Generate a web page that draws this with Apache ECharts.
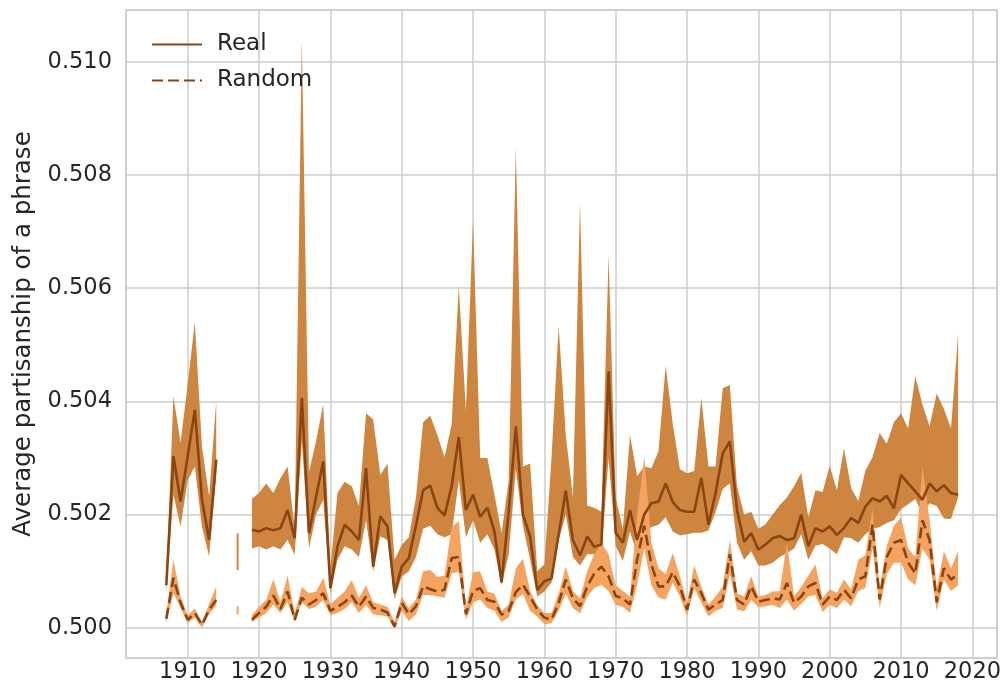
<!DOCTYPE html>
<html>
<head>
<meta charset="utf-8">
<title>Average partisanship of a phrase</title>
<script src="https://cdn.jsdelivr.net/npm/echarts@6.0.0/dist/echarts.min.js"></script>
<style>
  html, body { margin: 0; padding: 0; background: #fff; }
  #chart { width: 1004px; height: 690px; }
</style>
</head>
<body>
<div id="chart"></div>
<script>
// one entry per year, null where the year has no data
const years = [
  1907, 1908, 1909, 1910, 1911, 1912, 1913, 1914, 1915, 1916,
  1917, 1918, 1919, 1920, 1921, 1922, 1923, 1924, 1925, 1926,
  1927, 1928, 1929, 1930, 1931, 1932, 1933, 1934, 1935, 1936,
  1937, 1938, 1939, 1940, 1941, 1942, 1943, 1944, 1945, 1946,
  1947, 1948, 1949, 1950, 1951, 1952, 1953, 1954, 1955, 1956,
  1957, 1958, 1959, 1960, 1961, 1962, 1963, 1964, 1965, 1966,
  1967, 1968, 1969, 1970, 1971, 1972, 1973, 1974, 1975, 1976,
  1977, 1978, 1979, 1980, 1981, 1982, 1983, 1984, 1985, 1986,
  1987, 1988, 1989, 1990, 1991, 1992, 1993, 1994, 1995, 1996,
  1997, 1998, 1999, 2000, 2001, 2002, 2003, 2004, 2005, 2006,
  2007, 2008, 2009, 2010, 2011, 2012, 2013, 2014, 2015, 2016,
  2017, 2018
];

const realMean = [
  0.50075, 0.50303, 0.50223, 0.50303, 0.50385, 0.50226, 0.50155, 0.50297, null, null,
  0.50135, null, 0.50173, 0.50170, 0.50176, 0.50172, 0.50176, 0.50208, 0.50158, 0.50406,
  0.50167, 0.50232, 0.50294, 0.50070, 0.50144, 0.50182, 0.50170, 0.50155, 0.50282, 0.50108,
  0.50197, 0.50179, 0.50061, 0.50108, 0.50123, 0.50181, 0.50243, 0.50251, 0.50212, 0.50198,
  0.50250, 0.50337, 0.50208, 0.50235, 0.50196, 0.50212, 0.50170, 0.50080, 0.50205, 0.50356,
  0.50200, 0.50161, 0.50067, 0.50082, 0.50087, 0.50165, 0.50242, 0.50155, 0.50128, 0.50161,
  0.50143, 0.50147, 0.50453, 0.50168, 0.50150, 0.50208, 0.50155, 0.50200, 0.50220, 0.50223,
  0.50255, 0.50222, 0.50208, 0.50205, 0.50205, 0.50265, 0.50182, 0.50238, 0.50308, 0.50329,
  0.50208, 0.50152, 0.50167, 0.50138, 0.50147, 0.50158, 0.50162, 0.50155, 0.50158, 0.50200,
  0.50144, 0.50176, 0.50170, 0.50179, 0.50164, 0.50176, 0.50194, 0.50185, 0.50214, 0.50229,
  0.50223, 0.50233, 0.50211, 0.50270, 0.50255, 0.50241, 0.50226, 0.50255, 0.50241, 0.50252,
  0.50238, 0.50235
];
const realLo = [
  0.50062, 0.50235, 0.50179, 0.50261, 0.50285, 0.50179, 0.50126, 0.50270, null, null,
  0.50102, null, 0.50140, 0.50144, 0.50138, 0.50144, 0.50138, 0.50155, 0.50129, 0.50330,
  0.50140, 0.50200, 0.50226, 0.50060, 0.50120, 0.50144, 0.50138, 0.50125, 0.50190, 0.50100,
  0.50161, 0.50155, 0.50050, 0.50090, 0.50100, 0.50125, 0.50175, 0.50180, 0.50165, 0.50160,
  0.50165, 0.50260, 0.50160, 0.50190, 0.50150, 0.50165, 0.50138, 0.50075, 0.50130, 0.50280,
  0.50180, 0.50120, 0.50055, 0.50064, 0.50080, 0.50155, 0.50200, 0.50125, 0.50110, 0.50130,
  0.50130, 0.50134, 0.50300, 0.50145, 0.50118, 0.50170, 0.50130, 0.50165, 0.50178, 0.50182,
  0.50195, 0.50170, 0.50163, 0.50165, 0.50168, 0.50168, 0.50172, 0.50205, 0.50245, 0.50255,
  0.50150, 0.50120, 0.50135, 0.50110, 0.50110, 0.50115, 0.50125, 0.50132, 0.50140, 0.50165,
  0.50120, 0.50145, 0.50148, 0.50140, 0.50130, 0.50160, 0.50158, 0.50150, 0.50165, 0.50175,
  0.50178, 0.50185, 0.50190, 0.50210, 0.50218, 0.50228, 0.50200, 0.50220, 0.50215, 0.50193,
  0.50192, 0.50230
];
const realHi = [
  0.50085, 0.50409, 0.50327, 0.50430, 0.50540, 0.50320, 0.50232, 0.50400, null, null,
  0.50167, null, 0.50228, 0.50238, 0.50255, 0.50238, 0.50264, 0.50285, 0.50175, 0.51040,
  0.50275, 0.50330, 0.50395, 0.50106, 0.50238, 0.50258, 0.50250, 0.50215, 0.50379, 0.50368,
  0.50270, 0.50290, 0.50120, 0.50146, 0.50160, 0.50230, 0.50363, 0.50375, 0.50340, 0.50301,
  0.50359, 0.50604, 0.50383, 0.50720, 0.50300, 0.50300, 0.50235, 0.50167, 0.50260, 0.50849,
  0.50285, 0.50290, 0.50100, 0.50112, 0.50300, 0.50533, 0.50340, 0.50230, 0.50752, 0.50216,
  0.50212, 0.50205, 0.50658, 0.50230, 0.50175, 0.50340, 0.50268, 0.50285, 0.50282, 0.50312,
  0.50463, 0.50360, 0.50280, 0.50273, 0.50277, 0.50406, 0.50285, 0.50285, 0.50423, 0.50429,
  0.50250, 0.50200, 0.50205, 0.50175, 0.50183, 0.50200, 0.50217, 0.50230, 0.50250, 0.50274,
  0.50195, 0.50243, 0.50240, 0.50286, 0.50243, 0.50317, 0.50247, 0.50224, 0.50278, 0.50301,
  0.50344, 0.50325, 0.50363, 0.50379, 0.50352, 0.50445, 0.50394, 0.50356, 0.50414, 0.50387,
  0.50352, 0.50519
];

const randMean = [
  0.50016, 0.50088, 0.50044, 0.50014, 0.50026, 0.50005, 0.50032, 0.50049, null, null,
  0.50030, null, 0.50014, 0.50026, 0.50037, 0.50057, 0.50033, 0.50064, 0.50014, 0.50053,
  0.50041, 0.50049, 0.50061, 0.50030, 0.50037, 0.50045, 0.50057, 0.50037, 0.50055, 0.50035,
  0.50032, 0.50027, 0.50002, 0.50044, 0.50024, 0.50038, 0.50073, 0.50068, 0.50064, 0.50067,
  0.50123, 0.50125, 0.50024, 0.50065, 0.50070, 0.50049, 0.50046, 0.50023, 0.50030, 0.50063,
  0.50076, 0.50055, 0.50032, 0.50018, 0.50014, 0.50044, 0.50085, 0.50052, 0.50038, 0.50073,
  0.50096, 0.50108, 0.50091, 0.50056, 0.50052, 0.50041, 0.50120, 0.50180, 0.50112, 0.50073,
  0.50073, 0.50098, 0.50073, 0.50032, 0.50085, 0.50061, 0.50032, 0.50041, 0.50049, 0.50130,
  0.50049, 0.50041, 0.50073, 0.50046, 0.50049, 0.50052, 0.50050, 0.50079, 0.50044, 0.50055,
  0.50073, 0.50079, 0.50041, 0.50055, 0.50049, 0.50067, 0.50052, 0.50085, 0.50091, 0.50182,
  0.50050, 0.50125, 0.50150, 0.50155, 0.50115, 0.50096, 0.50190, 0.50155, 0.50045, 0.50105,
  0.50085, 0.50095
];
const randLo = [
  0.50008, 0.50061, 0.50035, 0.50008, 0.50018, 0.50000, 0.50024, 0.50040, null, null,
  0.50023, null, 0.50010, 0.50018, 0.50026, 0.50041, 0.50026, 0.50045, 0.50010, 0.50045,
  0.50033, 0.50037, 0.50049, 0.50022, 0.50026, 0.50033, 0.50045, 0.50026, 0.50040, 0.50024,
  0.50022, 0.50020, 0.49998, 0.50030, 0.50012, 0.50024, 0.50058, 0.50058, 0.50055, 0.50053,
  0.50096, 0.50099, 0.50014, 0.50045, 0.50050, 0.50035, 0.50030, 0.50010, 0.50018, 0.50050,
  0.50060, 0.50030, 0.50020, 0.50006, 0.50008, 0.50030, 0.50060, 0.50035, 0.50025, 0.50055,
  0.50070, 0.50076, 0.50065, 0.50040, 0.50037, 0.50026, 0.50076, 0.50140, 0.50075, 0.50053,
  0.50050, 0.50080, 0.50055, 0.50020, 0.50070, 0.50044, 0.50020, 0.50030, 0.50035, 0.50096,
  0.50032, 0.50029, 0.50049, 0.50036, 0.50038, 0.50040, 0.50035, 0.50050, 0.50030, 0.50042,
  0.50055, 0.50058, 0.50028, 0.50040, 0.50035, 0.50050, 0.50038, 0.50065, 0.50070, 0.50140,
  0.50035, 0.50095, 0.50115, 0.50115, 0.50085, 0.50075, 0.50140, 0.50120, 0.50030, 0.50085,
  0.50065, 0.50075
];
const randHi = [
  0.50025, 0.50120, 0.50055, 0.50022, 0.50034, 0.50010, 0.50042, 0.50073, null, null,
  0.50038, null, 0.50022, 0.50037, 0.50049, 0.50085, 0.50045, 0.50092, 0.50026, 0.50072,
  0.50061, 0.50064, 0.50088, 0.50041, 0.50053, 0.50064, 0.50084, 0.50053, 0.50075, 0.50045,
  0.50041, 0.50037, 0.50010, 0.50055, 0.50035, 0.50050, 0.50100, 0.50102, 0.50090, 0.50092,
  0.50178, 0.50188, 0.50035, 0.50098, 0.50100, 0.50064, 0.50060, 0.50030, 0.50041, 0.50105,
  0.50122, 0.50065, 0.50040, 0.50026, 0.50026, 0.50060, 0.50108, 0.50065, 0.50052, 0.50100,
  0.50130, 0.50150, 0.50130, 0.50075, 0.50065, 0.50055, 0.50200, 0.50303, 0.50150, 0.50105,
  0.50095, 0.50132, 0.50091, 0.50044, 0.50110, 0.50073, 0.50041, 0.50055, 0.50073, 0.50155,
  0.50061, 0.50055, 0.50091, 0.50055, 0.50058, 0.50064, 0.50065, 0.50150, 0.50056, 0.50072,
  0.50092, 0.50112, 0.50052, 0.50068, 0.50062, 0.50085, 0.50068, 0.50120, 0.50128, 0.50210,
  0.50070, 0.50145, 0.50180, 0.50195, 0.50140, 0.50125, 0.50285, 0.50190, 0.50070, 0.50135,
  0.50105, 0.50135
];

const LINE = '#8b4513';
const FONT = 'DejaVu Sans';
const TXT = '#262626';

// shaded band between lo and hi, one polygon per run of consecutive years
function band(name, lo, hi, color, z) {
  const runs = [];
  let start = -1;
  for (let i = 0; i <= years.length; i++) {
    const ok = i < years.length && lo[i] != null && hi[i] != null;
    if (ok && start < 0) start = i;
    if (!ok && start >= 0) { runs.push([start, i - 1]); start = -1; }
  }
  return {
    type: 'custom',
    name: name,
    silent: true,
    clip: true,
    z: z,
    data: runs.map(r => [years[r[0]], lo[r[0]]]),
    renderItem: function (params, api) {
      const a = runs[params.dataIndex][0], b = runs[params.dataIndex][1];
      if (a === b) {
        // a lone year shows as a thin sliver
        const top = api.coord([years[a], hi[a]]);
        const bot = api.coord([years[a], lo[a]]);
        return {
          type: 'rect',
          shape: { x: top[0] - 1, y: top[1], width: 2, height: bot[1] - top[1] },
          style: { fill: color }
        };
      }
      const pts = [];
      for (let i = a; i <= b; i++) pts.push(api.coord([years[i], hi[i]]));
      for (let i = b; i >= a; i--) pts.push(api.coord([years[i], lo[i]]));
      return { type: 'polygon', shape: { points: pts }, style: { fill: color } };
    }
  };
}

const chart = echarts.init(document.getElementById('chart'), null, { renderer: 'canvas' });

chart.setOption({
  animation: false,
  backgroundColor: '#fff',
  grid: {
    left: 126, right: 7, top: 10, bottom: 32,
    show: true, borderColor: '#cccccc', borderWidth: 1.5,
    outerBoundsMode: 'none'
  },
  legend: {
    data: ['Real', 'Random'],
    orient: 'vertical',
    left: 146, top: 28,
    itemWidth: 50, itemHeight: 22, itemGap: 13,
    itemStyle: { opacity: 0, borderWidth: 0 },
    textStyle: { fontFamily: FONT, fontSize: 23, color: TXT, padding: [0, 0, 0, 10] }
  },
  xAxis: {
    type: 'value',
    min: 1901.35, max: 2023.45,
    splitNumber: 12,
    axisLine: { show: false },
    axisTick: { show: false },
    splitLine: { lineStyle: { color: '#cccccc', width: 1.5 } },
    axisLabel: {
      fontFamily: FONT, fontSize: 22.5, color: TXT, margin: 3,
      showMinLabel: false, showMaxLabel: false,
      formatter: v => String(Math.round(v))
    }
  },
  yAxis: {
    type: 'value',
    min: 0.499465, max: 0.510915,
    splitNumber: 6,
    name: 'Average partisanship of a phrase',
    nameLocation: 'middle',
    nameGap: 90,
    nameTextStyle: { fontFamily: FONT, fontSize: 24.5, color: TXT },
    axisLine: { show: false },
    axisTick: { show: false },
    splitLine: { lineStyle: { color: '#cccccc', width: 1.5 } },
    axisLabel: {
      fontFamily: FONT, fontSize: 22.5, color: TXT, margin: 14,
      showMinLabel: false, showMaxLabel: false,
      formatter: v => v.toFixed(3)
    }
  },
  series: [
    band('Real band', realLo, realHi, '#cd853f', 2),
    band('Random band', randLo, randHi, '#f4a460', 3),
    {
      name: 'Real',
      type: 'line',
      z: 4,
      symbol: 'none',
      connectNulls: false,
      lineStyle: { color: LINE, width: 2.6 },
      itemStyle: { color: LINE },
      data: years.map((y, i) => [y, realMean[i]])
    },
    {
      name: 'Random',
      type: 'line',
      z: 5,
      symbol: 'none',
      connectNulls: false,
      lineStyle: { color: LINE, width: 2.6, type: [11, 5] },
      itemStyle: { color: LINE },
      data: years.map((y, i) => [y, randMean[i]])
    }
  ]
});
</script>
</body>
</html>
